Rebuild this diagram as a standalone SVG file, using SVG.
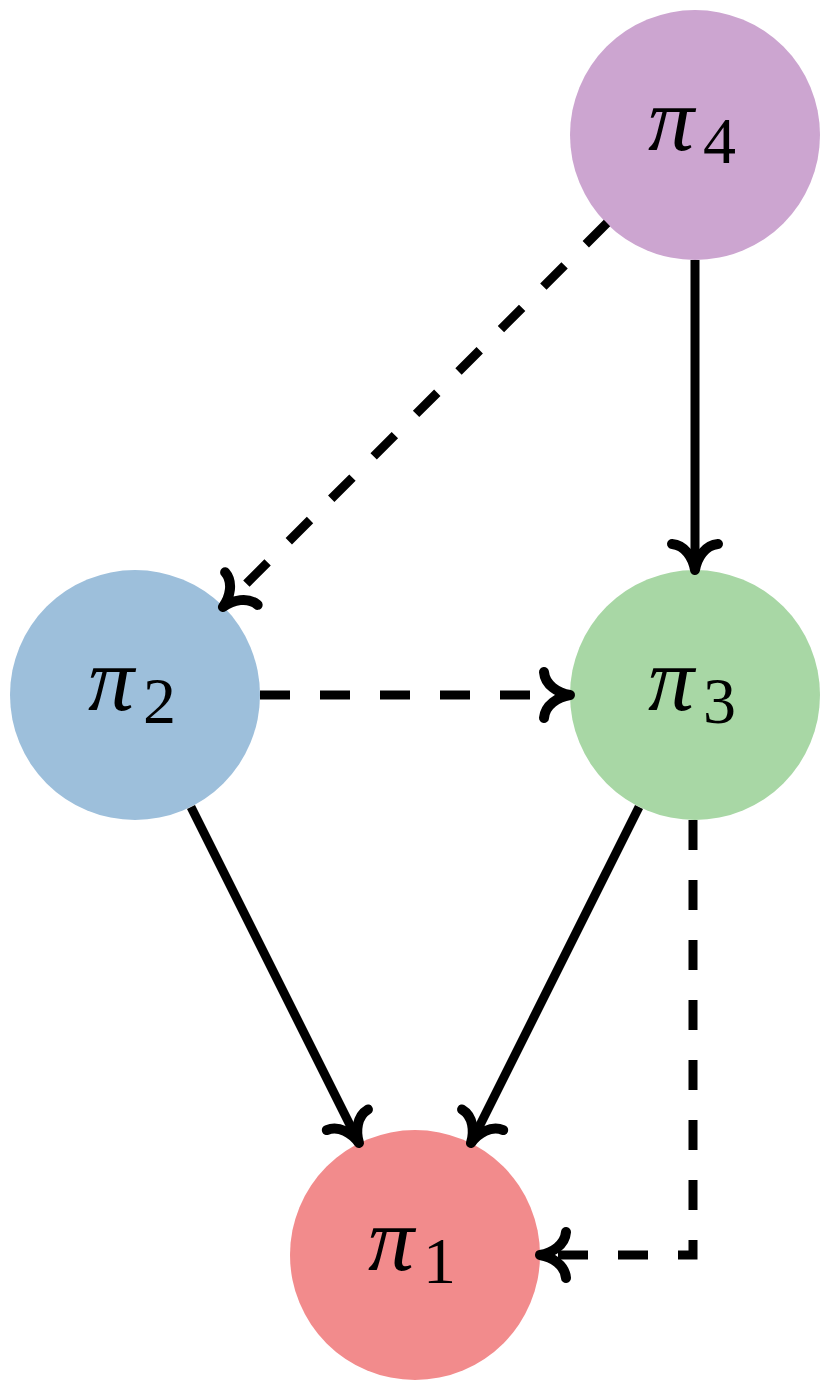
<svg xmlns="http://www.w3.org/2000/svg" width="830" height="1391" viewBox="0 0 830 1391">
<style>
.pi{font-family:"Liberation Serif",serif;font-style:italic;font-size:92px;fill:#000}
.sub{font-family:"Liberation Serif",serif;font-size:66px;fill:#000}
.edge{fill:none;stroke:#000;stroke-width:9;marker-end:url(#to)}
.dash{stroke-dasharray:30 30}
</style>
<defs>
<marker id="to" markerUnits="userSpaceOnUse" orient="auto" refX="0" refY="0" markerWidth="80" markerHeight="80" viewBox="-40 -40 80 80" overflow="visible">
<path d="M -26,-23 C -25,-10 -12,-2 0,0 C -12,2 -25,10 -26,23" fill="none" stroke="#000" stroke-width="10" stroke-linecap="round" stroke-linejoin="round"/>
</marker>
</defs>
<rect width="830" height="1391" fill="#fff"/>
<g id="nodes">
<g id="pi4"><circle cx="695" cy="135" r="125" fill="#cca5d0"/><text x="648" y="150" class="pi">π</text><text x="703" y="163" class="sub">4</text></g>
<g id="pi2"><circle cx="135" cy="695" r="125" fill="#9dbfdb"/><text x="88" y="710" class="pi">π</text><text x="143" y="723" class="sub">2</text></g>
<g id="pi3"><circle cx="695" cy="695" r="125" fill="#a8d7a5"/><text x="648" y="710" class="pi">π</text><text x="703" y="723" class="sub">3</text></g>
<g id="pi1"><circle cx="415" cy="1255" r="125" fill="#f28b8c"/><text x="368" y="1270" class="pi">π</text><text x="423" y="1283" class="sub">1</text></g>
</g>
<g id="connectors">
<path class="edge" d="M695,260 L695,570"/>
<path class="edge dash" d="M607,223 L223,607"/>
<path class="edge dash" d="M260,695 L570,695"/>
<path class="edge" d="M191,807 L359,1143"/>
<path class="edge" d="M639,807 L471,1143"/>
<path class="edge dash" d="M693,820 L693,1255 L540,1255"/>
</g>
</svg>
